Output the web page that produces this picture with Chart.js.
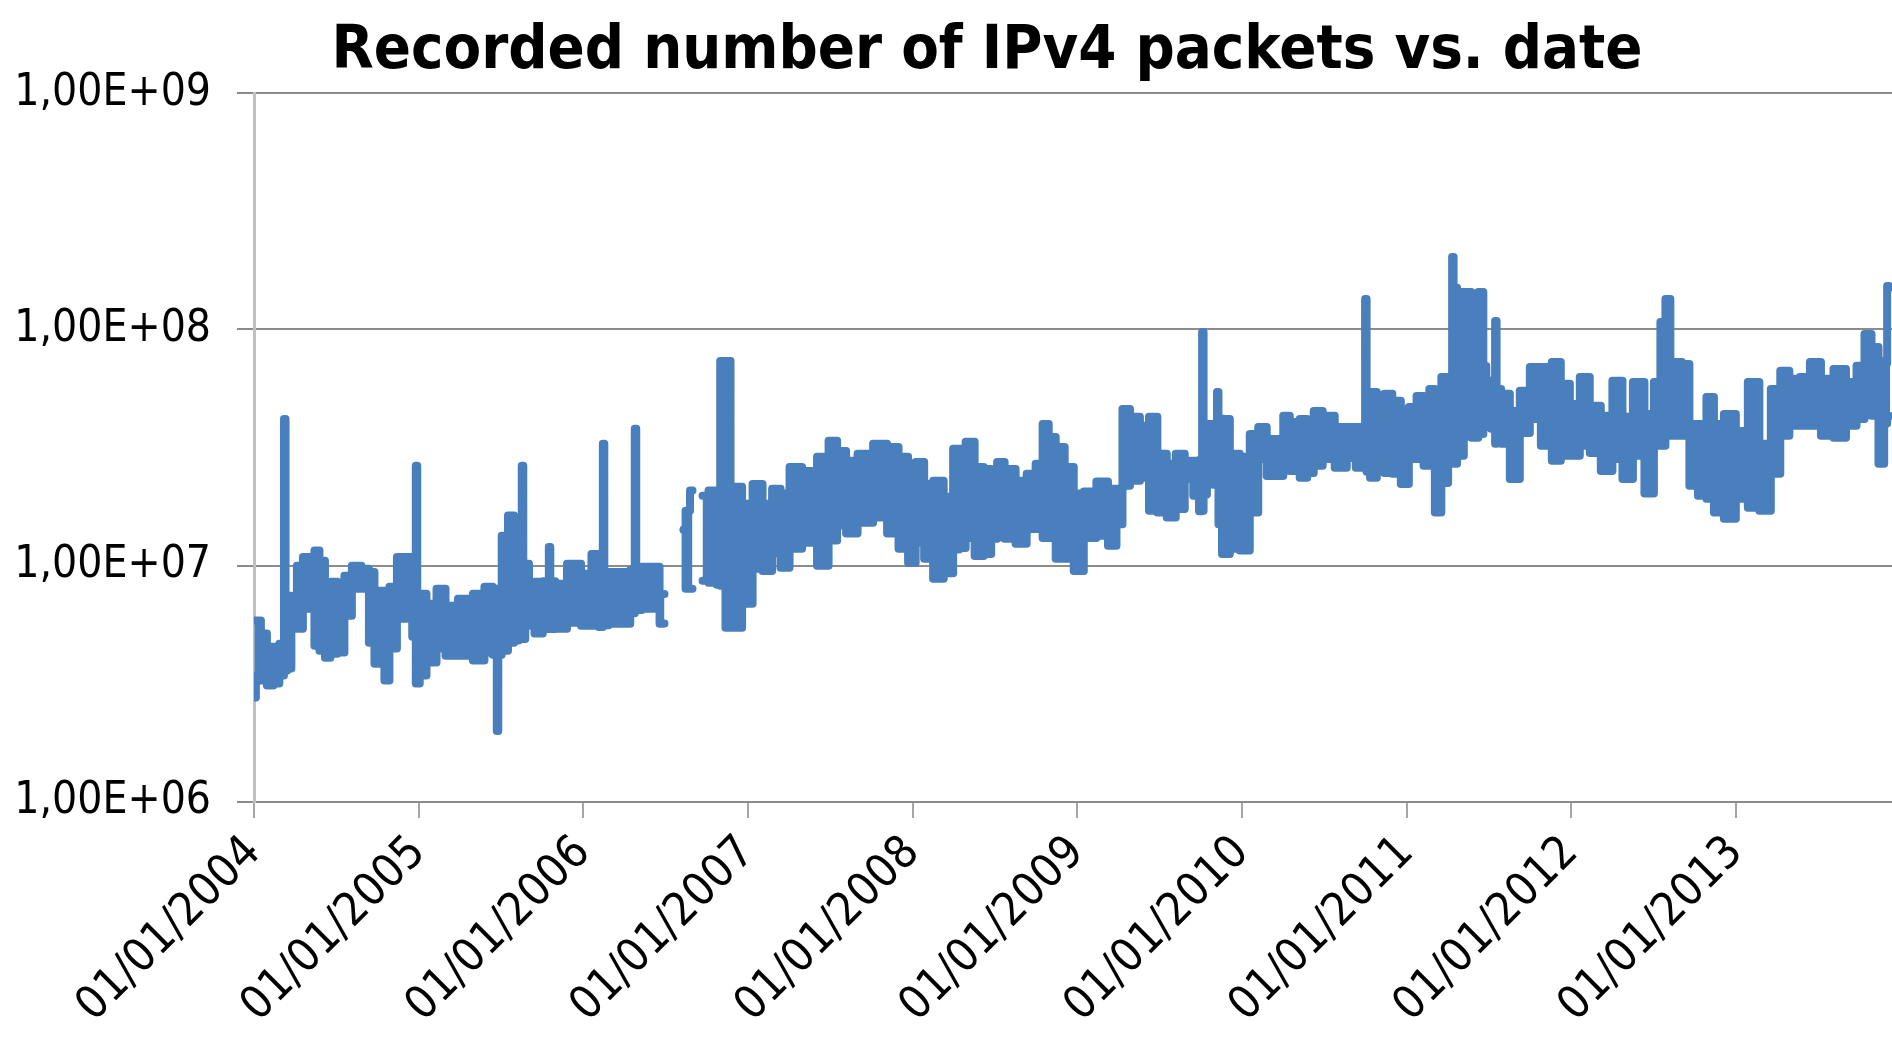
<!DOCTYPE html>
<html>
<head>
<meta charset="utf-8">
<script src="https://cdn.jsdelivr.net/npm/chart.js@4.4.1/dist/chart.umd.min.js"></script>
<style>
  html, body { margin: 0; padding: 0; background: #fff; overflow: hidden; }
  #wrap { width: 1974px; height: 1041px; }
</style>
</head>
<body>
<div id="wrap"><canvas id="chart"></canvas></div>
<script>
const chartTitle = 'Recorded number of IPv4 packets vs. date';
const yearTicks = [2004, 2005, 2006, 2007, 2008, 2009, 2010, 2011, 2012, 2013];
const yTicks = [1e6, 1e7, 1e8, 1e9];
const yTickLabels = ['1,00E+06', '1,00E+07', '1,00E+08', '1,00E+09'];

// years after 01/01/2004
const dates = [
  0.002, 0.021, 0.063, 0.094, 0.142, 0.166, 0.177, 0.187, 0.196, 0.209, 0.245, 0.276, 0.318, 0.355,
  0.379, 0.416, 0.446, 0.482, 0.531, 0.567, 0.622, 0.683, 0.713, 0.750, 0.780, 0.804, 0.841, 0.895,
  0.944, 0.978, 0.987, 0.996, 1.017, 1.078, 1.139, 1.187, 1.290, 1.369, 1.430, 1.470, 1.479, 1.488,
  1.521, 1.564, 1.594, 1.621, 1.631, 1.640, 1.655, 1.685, 1.722, 1.786, 1.795, 1.804, 1.855, 1.947,
  2.025, 2.074, 2.114, 2.123, 2.132, 2.177, 2.262, 2.308, 2.317, 2.326, 2.384, 2.445, 2.481, 2.493,
  2.550, 2.609, 2.633, 2.663, 2.690,
  2.724, 2.797, 2.824, 2.839, 2.888, 2.900, 2.931, 2.998, 3.058, 3.119, 3.174, 3.222, 3.283, 3.374,
  3.465, 3.514, 3.569, 3.623, 3.708, 3.812, 3.878, 3.951, 3.994, 4.043, 4.097, 4.152, 4.225, 4.267,
  4.298, 4.346, 4.407, 4.456, 4.498, 4.528, 4.589, 4.662, 4.723, 4.771, 4.808, 4.845, 4.893, 4.954,
  5.003, 5.076, 5.156, 5.217, 5.259, 5.290, 5.350, 5.411, 5.460, 5.513, 5.574, 5.622, 5.683, 5.726,
  5.753, 5.763, 5.771, 5.804, 5.844, 5.853, 5.862, 5.896, 5.957, 6.017, 6.078, 6.120, 6.181, 6.242,
  6.260, 6.321, 6.381, 6.412, 6.460, 6.521, 6.606, 6.667, 6.716, 6.743, 6.753, 6.761, 6.795, 6.843,
  6.886, 6.941, 6.989, 7.038, 7.083, 7.123, 7.153, 7.190, 7.232, 7.272, 7.281, 7.290, 7.323, 7.372,
  7.414, 7.457, 7.475, 7.493, 7.533, 7.542, 7.551, 7.597, 7.657, 7.718, 7.779, 7.852, 7.912, 7.961,
  8.022, 8.082, 8.143, 8.216, 8.284, 8.338, 8.411, 8.478, 8.526, 8.557, 8.587, 8.617, 8.648, 8.696,
  8.739, 8.800, 8.842, 8.891, 8.963, 9.036, 9.109, 9.176, 9.248, 9.291, 9.358, 9.419, 9.480, 9.553,
  9.632, 9.705, 9.760, 9.802, 9.845, 9.887, 9.914, 9.923, 9.936
];

// daily packet counts, millions: top of the band
const upperMillions = [
  5.86, 5.86, 5.16, 4.54, 4.54, 4.68, 4.68, 41.8, 7.46, 7.46, 7.40, 10.0, 10.9, 10.9,
  11.6, 10.5, 7.11, 8.56, 7.40, 9.07, 10.0, 9.70, 9.40, 7.84, 7.84, 6.91, 8.15, 10.9,
  10.9, 10.9, 26.5, 7.61, 7.61, 6.91, 7.99, 6.77, 7.25, 7.61, 8.15, 8.00, 7.99, 8.00,
  13.4, 16.3, 15.0, 15.0, 26.5, 10.2, 10.2, 7.11, 8.56, 8.60, 12.0, 8.60, 8.39, 10.2,
  9.25, 11.2, 11.2, 32.8, 9.40, 9.40, 9.40, 9.60, 38.0, 9.50, 9.90, 9.90, 7.61, 7.60,
  null, 14.2, 17.1, 20.8, null,
  19.8, 20.8, 20.8, 73.6, 73.6, 21.6, 21.6, 18.3, 22.2, 18.3, 21.2, 20.2, 26.2, 25.2,
  28.9, 33.8, 30.6, 27.8, 29.8, 32.8, 31.8, 28.9, 22.2, 27.5, 22.2, 22.9, 19.6, 31.3,
  31.3, 33.5, 26.2, 25.7, 24.5, 27.5, 25.7, 22.9, 24.5, 27.0, 39.8, 35.1, 31.8, 26.2,
  20.2, 20.6, 22.7, 21.2, 21.2, 46.1, 42.7, 39.1, 42.7, 29.8, 27.0, 29.8, 27.8, 27.8,
  28.0, 97.6, 39.8, 39.8, 38.0, 54.4, 42.0, 41.8, 29.8, 28.9, 36.1, 38.7, 34.4, 34.4,
  43.1, 40.6, 41.8, 37.2, 45.2, 43.1, 38.7, 38.7, 38.7, 38.0, 134.6, 54.4, 54.4, 39.8,
  53.4, 49.9, 41.8, 47.0, 52.3, 45.2, 56.0, 55.0, 63.0, 60.0, 202.6, 150, 144, 144,
  134.6, 144, 70.0, 60.6, 58.0, 108.6, 56.0, 53.4, 45.2, 55.0, 69.4, 69.4, 72.9, 58.9,
  48.4, 63.0, 47.6, 43.1, 60.6, 42.7, 60.0, 43.9, 60.0, 107.6, 134.6, 72.9, 72.9, 71.5,
  39.8, 39.8, 51.8, 39.8, 43.9, 37.2, 60.0, 32.8, 56.0, 66.8, 61.8, 63.0, 72.9, 61.8,
  68.1, 60.0, 70.2, 95.7, 84.3, 73.6, 72.0, 152.8, 150
];

// daily packet counts, millions: bottom of the band
const lowerMillions = [
  2.77, 3.43, 3.27, 3.11, 3.17, 3.43, 3.43, 3.60, 3.60, 3.67, 5.41, 5.41, 6.58, 6.58,
  4.59, 4.37, 4.08, 4.24, 4.29, 6.14, 7.99, 7.99, 4.72, 3.85, 3.97, 3.27, 4.46, 5.97,
  5.97, 5.00, 3.17, 3.17, 3.43, 3.89, 4.46, 4.16, 4.16, 3.97, 4.29, 4.20, 2.00, 4.20,
  4.37, 4.72, 4.82, 4.90, 4.91, 4.90, 5.57, 5.74, 5.16, 5.40, 5.41, 5.40, 5.41, 5.74,
  5.57, 5.57, 5.50, 5.68, 5.60, 5.68, 5.68, 6.30, 6.58, 6.50, 6.58, 6.58, 5.68, 5.70,
  null, 14.2, 7.99, 7.99, null,
  8.64, 8.47, 8.30, 8.23, 5.47, 5.47, 5.47, 6.91, 9.70, 9.50, 11.3, 9.80, 11.8, 12.5,
  10.0, 12.8, 14.8, 13.7, 15.2, 16.0, 13.7, 11.8, 10.3, 12.5, 10.7, 8.81, 9.30, 11.7,
  11.9, 13.1, 11.0, 11.2, 13.0, 14.3, 13.0, 12.4, 14.3, 14.3, 13.1, 13.1, 10.7, 10.7,
  9.50, 13.1, 13.4, 12.15, 15.0, 21.8, 22.9, 23.6, 17.1, 16.8, 16.0, 17.4, 23.3, 19.8,
  17.0, 17.1, 20.0, 24.0, 22.0, 21.8, 15.0, 11.2, 11.8, 11.6, 16.8, 28.3, 24.0, 24.0,
  26.5, 25.2, 23.6, 24.7, 26.5, 28.3, 26.0, 28.6, 26.0, 26.0, 26.5, 25.0, 23.6, 30.0,
  24.7, 24.5, 22.2, 28.3, 28.3, 26.5, 29.2, 16.8, 22.4, 27.0, 27.0, 27.0, 29.2, 35.5,
  34.8, 36.1, 40.0, 39.1, 38.0, 32.8, 33.0, 32.8, 23.3, 36.5, 41.8, 32.2, 27.8, 29.2,
  29.2, 32.2, 30.0, 25.2, 28.3, 23.3, 29.2, 20.2, 32.2, 32.2, 35.5, 35.5, 35.5, 35.5,
  21.8, 19.8, 19.2, 16.8, 15.8, 19.2, 17.6, 17.1, 24.5, 35.5, 39.1, 39.1, 39.1, 35.5,
  34.8, 39.1, 41.8, 43.9, 43.1, 27.0, 40.0, 43.1, 43.0
];

const blue = '#4a7fbd';
const tickFamily = "'DejaVu Sans Condensed', 'DejaVu Sans', sans-serif";

function toPoints(values) {
  return dates.map((d, i) => ({ x: 2004 + d, y: values[i] === null ? null : values[i] * 1e6 }));
}

const lineStyle = {
  borderColor: blue,
  backgroundColor: blue,
  borderWidth: 8,
  borderJoinStyle: 'round',
  borderCapStyle: 'round',
  pointRadius: 0,
  stepped: 'middle',
  spanGaps: false
};

new Chart(document.getElementById('chart'), {
  type: 'line',
  data: {
    datasets: [
      Object.assign({ data: toPoints(upperMillions), fill: '+1' }, lineStyle),
      Object.assign({ data: toPoints(lowerMillions), fill: false }, lineStyle)
    ]
  },
  options: {
    animation: false,
    responsive: true,
    maintainAspectRatio: false,
    layout: { padding: 0 },
    plugins: {
      legend: { display: false },
      tooltip: { enabled: false },
      title: {
        display: true,
        text: chartTitle,
        color: '#000',
        font: { family: tickFamily, size: 61, weight: 'bold' },
        padding: { top: 16, bottom: 4 }
      }
    },
    scales: {
      x: {
        type: 'linear',
        min: 2004,
        max: 2014.446,
        afterBuildTicks: (scale) => { scale.ticks = yearTicks.map(v => ({ value: v })); },
        afterFit: (scale) => { scale.height = 239; },
        ticks: {
          callback: (v) => '01/01/' + v,
          minRotation: 45,
          maxRotation: 45,
          autoSkip: false,
          color: '#000',
          font: { family: tickFamily, size: 46 },
          padding: 8
        },
        grid: { drawOnChartArea: false, drawTicks: true, tickLength: 16, color: '#a6a6a6', lineWidth: 2 },
        border: { display: true, color: '#8c8c8c', width: 2 }
      },
      y: {
        type: 'logarithmic',
        min: 1e6,
        max: 1e9,
        afterBuildTicks: (scale) => { scale.ticks = yTicks.map(v => ({ value: v })); },
        afterFit: (scale) => { scale.width = 254; },
        ticks: {
          callback: (v, i) => yTickLabels[i],
          color: '#000',
          font: { family: tickFamily, size: 44 },
          padding: 26
        },
        grid: { color: '#8c8c8c', lineWidth: 2, tickLength: 17 },
        border: { display: true, color: '#c0c0c0', width: 3 }
      }
    }
  }
});
</script>
</body>
</html>
